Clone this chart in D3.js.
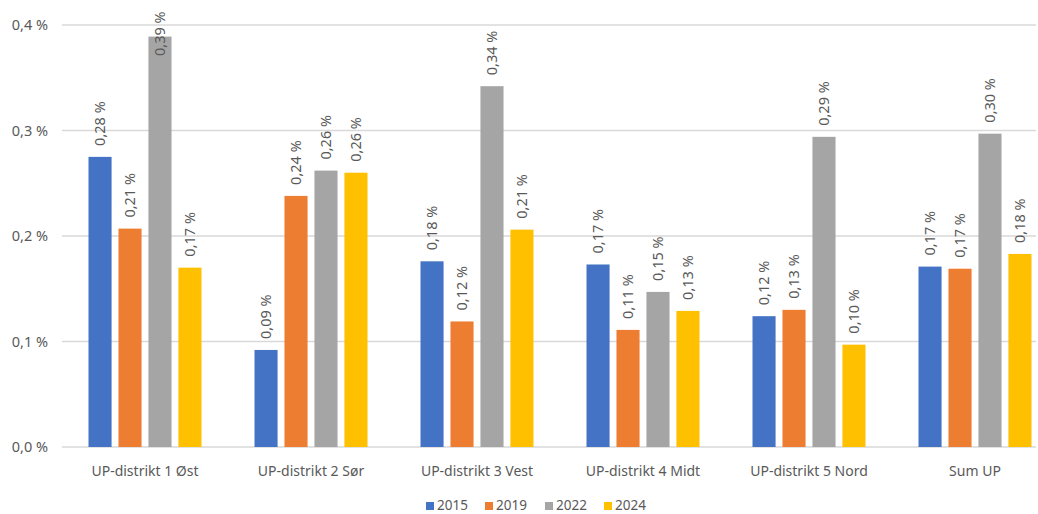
<!DOCTYPE html>
<html><head><meta charset="utf-8">
<script src="https://cdn.jsdelivr.net/npm/d3@7"></script>
<style>body{margin:0;background:#fff}svg{display:block}</style>
</head><body><svg id="c" width="1038" height="514"></svg>
<script>
const categories = ["UP-distrikt 1 Øst","UP-distrikt 2 Sør","UP-distrikt 3 Vest","UP-distrikt 4 Midt","UP-distrikt 5 Nord","Sum UP"];
const seriesNames = ["2015","2019","2022","2024"];
const v2015 = [0.275,0.092,0.176,0.173,0.124,0.171];
const v2019 = [0.207,0.238,0.119,0.111,0.130,0.169];
const v2022 = [0.389,0.262,0.342,0.147,0.294,0.297];
const v2024 = [0.170,0.260,0.206,0.129,0.097,0.183];
const yTicks = [0,0.1,0.2,0.3,0.4];
const colors = ["#4472C4","#ED7D31","#A5A5A5","#FFC000"];
const series = [v2015,v2019,v2022,v2024];

const svg = d3.select("#c");
const font = "'Noto Sans', 'Open Sans', sans-serif";
const x = d3.scaleBand().domain(categories).range([62,1058]).paddingInner(0).paddingOuter(0);
const inner = d3.scaleBand().domain(seriesNames).range([26.5, x.bandwidth()-26.5]).paddingInner(0.23);
const y = d3.scaleLinear().domain([0,0.4]).range([447,25]);
const fmt = v => d3.format(".1f")(v).replace(".",",") + " %";
const fmt2 = v => d3.format(".2f")(v).replace(".",",") + " %";

// gridlines
svg.append("g").selectAll("line").data(yTicks).join("line")
  .attr("x1",62).attr("x2",1036).attr("y1",d=>y(d)).attr("y2",d=>y(d))
  .attr("stroke","#d9d9d9").attr("stroke-width",1.5);
svg.append("g").selectAll("text").data(yTicks).join("text")
  .attr("x",48).attr("y",d=>y(d)+5).attr("text-anchor","end")
  .attr("font-family",font).attr("font-size",14.5).attr("fill","#595959").text(fmt);

// bars
seriesNames.forEach((s,i)=>{
  const g = svg.append("g");
  g.selectAll("rect").data(categories).join("rect")
    .attr("x",c=>x(c)+inner(s)).attr("width",inner.bandwidth())
    .attr("y",(c,j)=>y(series[i][j])).attr("height",(c,j)=>y(0)-y(series[i][j]))
    .attr("fill",colors[i]);
  g.selectAll("text").data(categories).join("text")
    .attr("transform",(c,j)=>`translate(${x(c)+inner(s)+inner.bandwidth()/2+5},${Math.max(y(series[i][j])-11, 56)}) rotate(-90)`)
    .attr("font-family",font).attr("font-size",14.5).attr("fill","#595959")
    .text((c,j)=>fmt2(series[i][j]));
});

// category labels
svg.append("g").selectAll("text").data(categories).join("text")
  .attr("x",c=>x(c)+x.bandwidth()/2).attr("y",476).attr("text-anchor","middle")
  .attr("font-family",font).attr("font-size",14).attr("fill","#595959").text(c=>c);

// legend
const lx = [426,485,545,604];
const lg = svg.append("g");
seriesNames.forEach((s,i)=>{
  lg.append("rect").attr("x",lx[i]).attr("y",502).attr("width",8).attr("height",8).attr("fill",colors[i]);
  lg.append("text").attr("x",lx[i]+11).attr("y",510).attr("font-family",font).attr("font-size",13.5).attr("fill","#595959").text(s);
});
</script></body></html>
